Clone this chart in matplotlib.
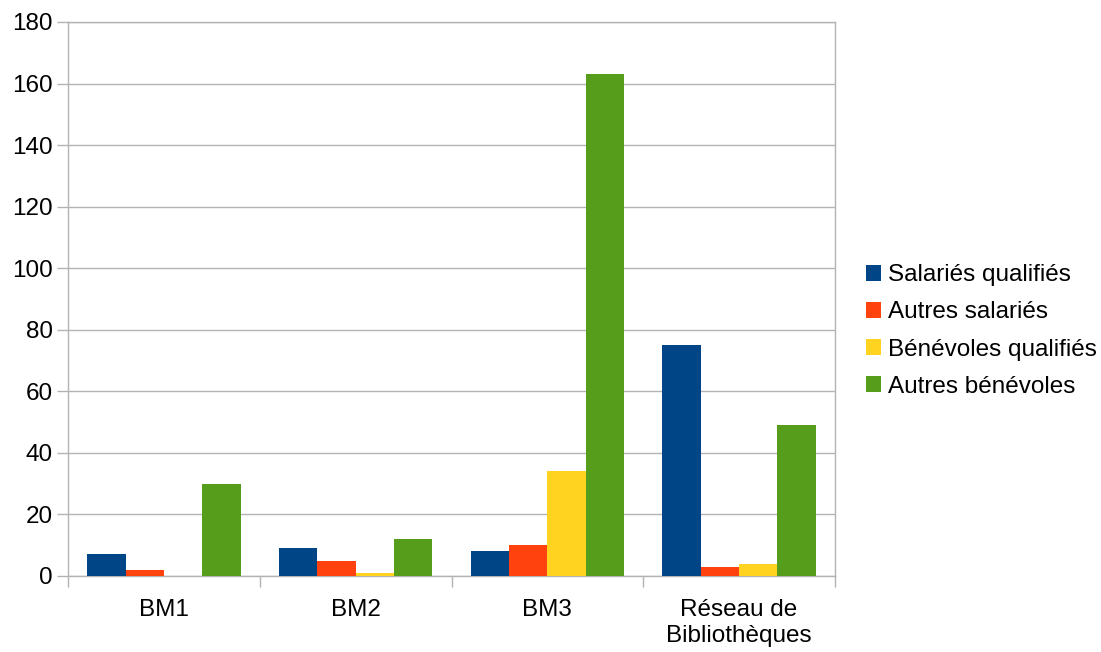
import numpy as np
import matplotlib.pyplot as plt

plt.rcParams['font.family'] = ['Liberation Sans', 'DejaVu Sans']

categories = ["BM1", "BM2", "BM3", "Réseau de\nBibliothèques"]
series = ["Salariés qualifiés", "Autres salariés", "Bénévoles qualifiés", "Autres bénévoles"]
salaries_qualifies = [7, 9, 8, 75]
autres_salaries = [2, 5, 10, 3]
benevoles_qualifies = [0, 1, 34, 4]
autres_benevoles = [30, 12, 163, 49]
values = [salaries_qualifies, autres_salaries, benevoles_qualifies, autres_benevoles]
colors = ["#004586", "#ff420e", "#ffd320", "#579d1c"]

fig = plt.figure(figsize=(11.01, 6.52), dpi=100)
ax = fig.add_axes([68/1101, 1 - 576/652, (835 - 68)/1101, (576 - 22)/652])

x = np.arange(len(categories))
w = 0.2
handles = []
for i, (vals, c) in enumerate(zip(values, colors)):
    h = ax.bar(x - 0.3 + i * w, vals, w, color=c, label=series[i], zorder=3)
    handles.append(h)

ax.set_xlim(-0.5, len(categories) - 0.5)
ax.set_ylim(0, 180)
ax.set_yticks(np.arange(0, 181, 20))
ax.yaxis.grid(True, color="#b3b3b3", lw=1, zorder=0)
ax.set_xticks(x)
ax.set_xticklabels(categories, linespacing=1.25)
ax.set_xticks(np.arange(-0.5, len(categories), 1), minor=True)
ax.tick_params(axis='x', which='major', length=0, pad=16.5, labelsize=17.5)
ax.tick_params(axis='x', which='minor', length=8, color="#b3b3b3", width=1)
ax.tick_params(axis='y', length=8, color="#b3b3b3", width=1, labelsize=17.5, pad=3)
for s in ax.spines.values():
    s.set_color("#b3b3b3")
    s.set_linewidth(1)

fig.legend(handles=handles, loc='center left', bbox_to_anchor=(866/1101, 1 - 331/652),
           frameon=False, fontsize=17.5, handlelength=0.6, handleheight=0.6,
           handletextpad=0.3, labelspacing=0.62, borderpad=0, borderaxespad=0)

fig.savefig("out.png", dpi=100)
